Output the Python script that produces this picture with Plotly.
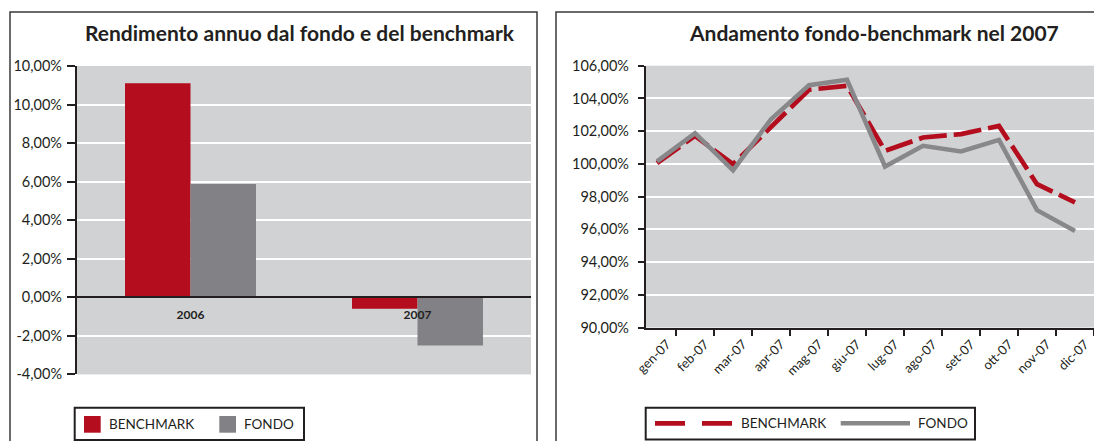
import plotly.graph_objects as go

# ---------------- data ----------------
years = ["2006", "2007"]
benchmark_annual = [11.10, -0.59]
fondo_annual = [5.88, -2.50]
left_tick_vals = [-4, -2, 0, 2, 4, 6, 8, 10, 12]
left_tick_text = ["-4,00%", "-2,00%", "0,00%", "2,00%", "4,00%", "6,00%", "8,00%", "10,00%", "10,00%"]

months = ["gen-07", "feb-07", "mar-07", "apr-07", "mag-07", "giu-07",
          "lug-07", "ago-07", "set-07", "ott-07", "nov-07", "dic-07"]
benchmark_monthly = [100.05, 101.71, 99.98, 102.30, 104.53, 104.77,
                     100.80, 101.61, 101.82, 102.32, 98.76, 97.64]
fondo_monthly = [100.15, 101.88, 99.61, 102.73, 104.81, 105.14,
                 99.84, 101.10, 100.76, 101.47, 97.17, 95.90]

series_names = ["BENCHMARK", "FONDO"]
title_left = "Rendimento annuo dal fondo e del benchmark"
title_right = "Andamento fondo-benchmark nel 2007"

# ---------------- style ----------------
W, H = 1094, 441
RED = "#B30D1E"
GREY_BAR = "#828286"
GREY_LINE = "#88888B"
BG = "#D1D2D4"
INK = "#231F20"
FONT = "Lato"


def X(px):
    return px / W


def Y(py):
    return 1 - py / H


fig = go.Figure()

# left chart bars
fig.add_trace(go.Bar(x=years, y=benchmark_annual, name=series_names[0],
                     marker=dict(color=RED, line=dict(width=0)),
                     xaxis="x", yaxis="y", showlegend=False))
fig.add_trace(go.Bar(x=years, y=fondo_annual, name=series_names[1],
                     marker=dict(color=GREY_BAR, line=dict(width=0)),
                     xaxis="x", yaxis="y", showlegend=False))

# right chart lines
fig.add_trace(go.Scatter(x=months, y=benchmark_monthly, name=series_names[0],
                         mode="lines", line=dict(color=RED, width=4.7, dash="28px,7px"),
                         xaxis="x2", yaxis="y2", showlegend=False))
fig.add_trace(go.Scatter(x=months, y=fondo_monthly, name=series_names[1],
                         mode="lines", line=dict(color=GREY_LINE, width=4.5),
                         xaxis="x2", yaxis="y2", showlegend=False))

shapes = [
    # panel borders
    dict(type="rect", xref="paper", yref="paper", x0=X(10), x1=X(537), y0=Y(470), y1=Y(12),
         line=dict(color="#3a3a3a", width=1.5), fillcolor="rgba(0,0,0,0)", layer="below"),
    dict(type="rect", xref="paper", yref="paper", x0=X(556), x1=X(1120), y0=Y(470), y1=Y(12),
         line=dict(color="#3a3a3a", width=1.5), fillcolor="rgba(0,0,0,0)", layer="below"),
    # left legend
    dict(type="rect", xref="paper", yref="paper", x0=X(74.7), x1=X(304), y0=Y(440), y1=Y(407.7),
         line=dict(color=INK, width=2), fillcolor="white"),
    dict(type="rect", xref="paper", yref="paper", x0=X(84), x1=X(100.7), y0=Y(432.7), y1=Y(416),
         line=dict(width=0), fillcolor=RED),
    dict(type="rect", xref="paper", yref="paper", x0=X(219.3), x1=X(236), y0=Y(432.7), y1=Y(416),
         line=dict(width=0), fillcolor=GREY_BAR),
    # right legend
    dict(type="rect", xref="paper", yref="paper", x0=X(645.7), x1=X(975), y0=Y(439.5), y1=Y(407.7),
         line=dict(color=INK, width=2), fillcolor="white"),
    dict(type="line", xref="paper", yref="paper", x0=X(655), x1=X(733), y0=Y(423.3), y1=Y(423.3),
         line=dict(color=RED, width=4.7, dash="30px,17px")),
    dict(type="line", xref="paper", yref="paper", x0=X(840.7), x1=X(910), y0=Y(423.3), y1=Y(423.3),
         line=dict(color=GREY_LINE, width=4.5)),
]

annotations = [
    dict(text="<b>%s</b>" % title_left, xref="paper", yref="paper", x=X(300), y=Y(33),
         xanchor="center", yanchor="middle", showarrow=False,
         font=dict(family=FONT, size=21, color=INK)),
    dict(text="<b>%s</b>" % title_right, xref="paper", yref="paper", x=X(874), y=Y(33),
         xanchor="center", yanchor="middle", showarrow=False,
         font=dict(family=FONT, size=21, color=INK)),
    dict(text=series_names[0], xref="paper", yref="paper", x=X(107), y=Y(424.3),
         xanchor="left", yanchor="middle", showarrow=False,
         font=dict(family=FONT, size=13.5, color=INK)),
    dict(text=series_names[1], xref="paper", yref="paper", x=X(241.5), y=Y(424.3),
         xanchor="left", yanchor="middle", showarrow=False,
         font=dict(family=FONT, size=13.5, color=INK)),
    dict(text=series_names[0], xref="paper", yref="paper", x=X(739), y=Y(423.3),
         xanchor="left", yanchor="middle", showarrow=False,
         font=dict(family=FONT, size=13.5, color=INK)),
    dict(text=series_names[1], xref="paper", yref="paper", x=X(915.5), y=Y(423.3),
         xanchor="left", yanchor="middle", showarrow=False,
         font=dict(family=FONT, size=13.5, color=INK)),
]

fig.update_layout(
    width=W, height=H,
    margin=dict(l=0, r=0, t=0, b=0),
    paper_bgcolor="white",
    plot_bgcolor=BG,
    separators=",.",
    barmode="group", bargap=0.423, bargroupgap=0,
    showlegend=False,
    font=dict(family=FONT, color=INK),
    shapes=shapes,
    annotations=annotations,
    xaxis=dict(domain=[X(77), X(531)], anchor="free", position=Y(297.3),
               type="category", showline=True, linecolor=INK, linewidth=2.2,
               ticks="", showgrid=False, zeroline=False, automargin=False,
               tickfont=dict(family=FONT, size=12, color=INK, weight="bold"),
               ticklabelstandoff=6, fixedrange=True),
    yaxis=dict(domain=[Y(374.4), Y(66)], anchor="x", range=[-4, 12],
               tickvals=left_tick_vals, ticktext=left_tick_text,
               showline=True, linecolor=INK, linewidth=2.2,
               ticks="outside", ticklen=8, tickwidth=1.5, tickcolor=INK,
               showgrid=True, gridcolor="white", gridwidth=2, zeroline=False,
               automargin=False, ticklabelstandoff=2,
               tickfont=dict(family=FONT, size=14.5, color=INK)),
    xaxis2=dict(domain=[X(646), 1.0], anchor="y2", type="category",
                range=[-0.29, 11.5], tickson="boundaries",
                showline=True, linecolor=INK, linewidth=2.2,
                ticks="outside", ticklen=6, tickwidth=1.5, tickcolor=INK,
                tickangle=-45, showgrid=False, zeroline=False, automargin=False,
                ticklabelshift=10, ticklabelstandoff=2,
                tickfont=dict(family=FONT, size=13, color=INK)),
    yaxis2=dict(domain=[Y(327.5), Y(65.7)], anchor="x2", range=[90, 106], dtick=2,
                tickformat=".2f", ticksuffix="%",
                showline=True, linecolor=INK, linewidth=2.2,
                ticks="outside", ticklen=6, tickwidth=1.5, tickcolor=INK,
                showgrid=True, gridcolor="white", gridwidth=2, zeroline=False,
                automargin=False, ticklabelstandoff=6,
                tickfont=dict(family=FONT, size=14.5, color=INK)),
)

fig.write_html("out.html", config={"displayModeBar": False},
               post_script="document.body.style.margin='0';")
